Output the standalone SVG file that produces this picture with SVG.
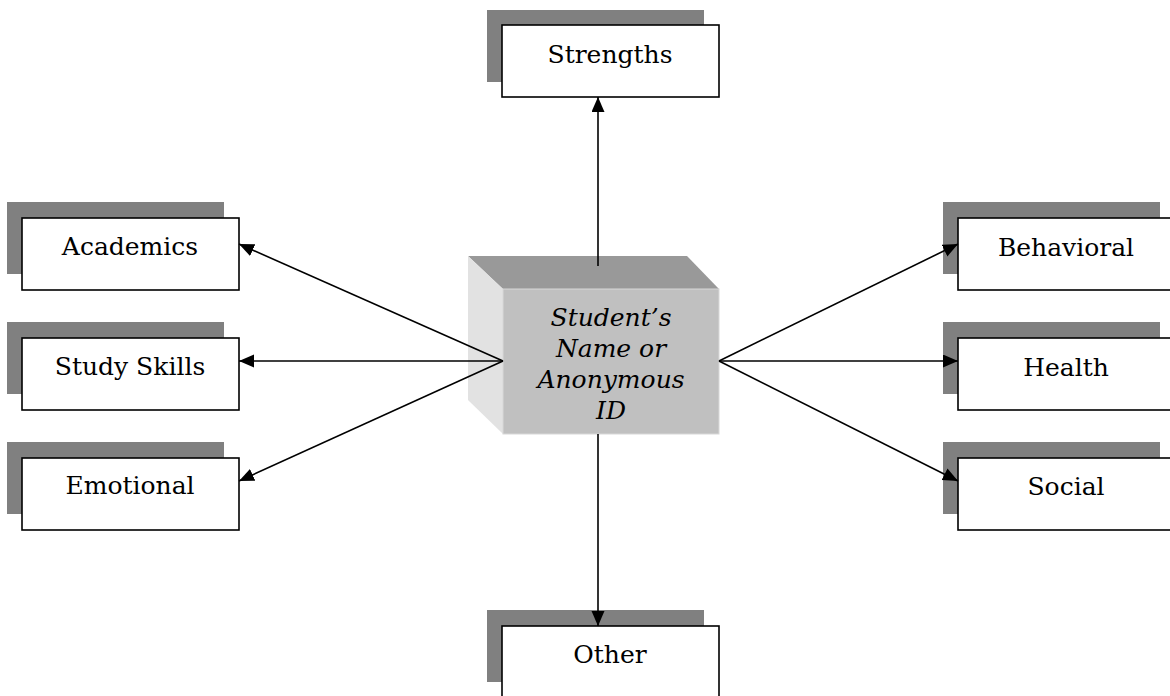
<svg xmlns="http://www.w3.org/2000/svg" width="1170" height="696" viewBox="0 0 1170 696">
<style>
.sh{fill:#808080}
.bx{fill:#fff;stroke:#000;stroke-width:1.6}
.lb{font-family:"DejaVu Serif","Liberation Serif",serif;font-size:25px;fill:#000;text-anchor:middle}
.ct{font-family:"DejaVu Serif","Liberation Serif",serif;font-size:25px;font-style:italic;fill:#000;text-anchor:middle}
.cn{stroke:#000;stroke-width:1.6;fill:none;marker-end:url(#ah)}
</style>
<defs>
<marker id="ah" markerUnits="userSpaceOnUse" markerWidth="16" markerHeight="14" refX="15" refY="6.5" orient="auto">
<path d="M0,0 L15,6.5 L0,13 Z" fill="#000"/>
</marker>
</defs>
<rect width="1170" height="696" fill="#fff"/>
<g id="center">
<polygon points="468,256 687,256 719,289 503,289" fill="#999999"/>
<polygon points="468,256 503,289 503,434 468,400" fill="#e2e2e2"/>
<rect x="503" y="289" width="216" height="145" fill="#c0c0c0" stroke="#d8d8d8" stroke-width="1"/>
<text class="ct" x="611" y="326">Student’s</text>
<text class="ct" x="611" y="357">Name or</text>
<text class="ct" x="611" y="388">Anonymous</text>
<text class="ct" x="611" y="419">ID</text>
</g>
<g id="strengths">
<rect class="sh" x="487" y="10" width="217" height="72"/>
<rect class="bx" x="502" y="25" width="217" height="72"/>
<text class="lb" x="610" y="63">Strengths</text>
</g>
<g id="academics">
<rect class="sh" x="7" y="202" width="217" height="72"/>
<rect class="bx" x="22" y="218" width="217" height="72"/>
<text class="lb" x="130" y="255">Academics</text>
</g>
<g id="studyskills">
<rect class="sh" x="7" y="322" width="217" height="72"/>
<rect class="bx" x="22" y="338" width="217" height="72"/>
<text class="lb" x="130" y="375">Study Skills</text>
</g>
<g id="emotional">
<rect class="sh" x="7" y="442" width="217" height="72"/>
<rect class="bx" x="22" y="458" width="217" height="72"/>
<text class="lb" x="130" y="494">Emotional</text>
</g>
<g id="behavioral">
<rect class="sh" x="943" y="202" width="217" height="72"/>
<rect class="bx" x="958" y="218" width="217" height="72"/>
<text class="lb" x="1066" y="256">Behavioral</text>
</g>
<g id="health">
<rect class="sh" x="943" y="322" width="217" height="72"/>
<rect class="bx" x="958" y="338" width="217" height="72"/>
<text class="lb" x="1066" y="376">Health</text>
</g>
<g id="social">
<rect class="sh" x="943" y="442" width="217" height="72"/>
<rect class="bx" x="958" y="458" width="217" height="72"/>
<text class="lb" x="1066" y="495">Social</text>
</g>
<g id="other">
<rect class="sh" x="487" y="610" width="217" height="72"/>
<rect class="bx" x="502" y="626" width="217" height="72"/>
<text class="lb" x="610" y="663">Other</text>
</g>
<g id="connectors">
<line class="cn" x1="598" y1="266" x2="598" y2="97"/>
<line class="cn" x1="598" y1="434" x2="598" y2="626"/>
<line class="cn" x1="503" y1="361" x2="239" y2="244"/>
<line class="cn" x1="503" y1="361" x2="239" y2="361"/>
<line class="cn" x1="503" y1="361" x2="239" y2="481"/>
<line class="cn" x1="719" y1="361" x2="958" y2="244"/>
<line class="cn" x1="719" y1="361" x2="958" y2="361"/>
<line class="cn" x1="719" y1="361" x2="958" y2="481"/>
</g>
</svg>
